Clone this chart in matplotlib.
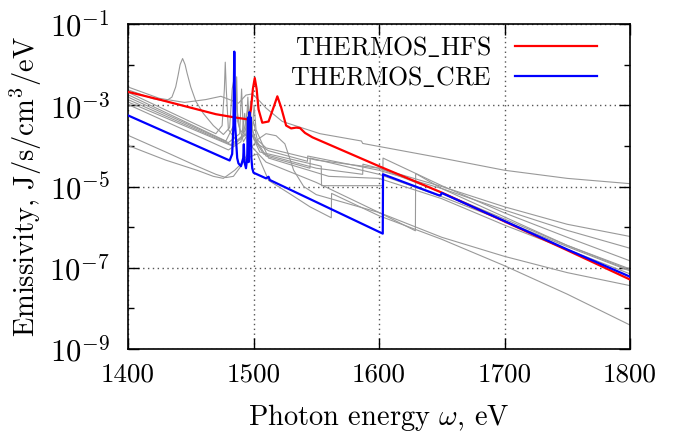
import numpy as np
import matplotlib
matplotlib.use("Agg")
import matplotlib.pyplot as plt

# --- data (photon energy in eV, log10 emissivity) ---
HFS_E = [1400, 1425, 1450, 1470, 1485, 1496, 1498, 1499.5, 1501, 1502.5, 1504, 1507,
         1512, 1516, 1519, 1522, 1526, 1530, 1534, 1537, 1541, 1547,
         1600, 1650, 1700, 1750, 1800]
HFS_LOG = [-2.67, -2.86, -3.06, -3.22, -3.30, -3.35, -3.10, -2.60, -2.33, -2.60, -3.10, -3.43,
           -3.40, -3.05, -2.78, -3.05, -3.50, -3.57, -3.55, -3.56, -3.68, -3.79,
           -4.50, -5.15, -5.86, -6.57, -7.29]

CRE_E = [1400, 1481, 1483, 1484, 1484.7, 1485.4, 1487, 1488, 1490, 1491.8, 1492.3, 1492.8,
         1494, 1495, 1495.6, 1496.1, 1496.7, 1497.2, 1497.8, 1498.3, 1499, 1500,
         1510, 1512, 1513, 1603, 1603.2, 1648, 1649, 1650, 1700, 1750, 1800]
CRE_LOG = [-3.25, -4.36, -4.20, -3.50, -1.68, -3.50, -4.30, -4.43, -4.50, -4.30, -3.96, -4.40,
           -4.55, -4.30, -3.30, -4.40, -3.17, -4.00, -3.30, -4.30, -4.55, -4.66,
           -4.80, -4.76, -4.84, -6.16, -4.70, -5.22, -5.22, -5.16, -5.85, -6.55, -7.22]

# other codes (gray)
OTHER_E = [
    [1400, 1425, 1445, 1462, 1474, 1480, 1488, 1494, 1499, 1505, 1510, 1523, 1553, 1586, 1587,
     1650, 1700, 1750, 1800],
    [1400, 1420, 1430, 1435, 1438, 1440, 1441.5, 1443.5, 1445.5, 1447, 1450, 1454, 1460, 1468,
     1476, 1481, 1483, 1484.5, 1486, 1489, 1496, 1500, 1503, 1510, 1550, 1600, 1650, 1700,
     1750, 1800],
    [1400, 1470, 1475, 1476.8, 1477.5, 1478.3, 1480, 1487, 1492, 1496, 1498, 1503, 1512,
     1543, 1543.2, 1600, 1650, 1700, 1750, 1800],
    [1400, 1478, 1485.8, 1486.6, 1487.4, 1492, 1497, 1497.6, 1498.4, 1505, 1554, 1554.2,
     1603, 1603.2, 1650, 1700, 1750, 1800],
    [1400, 1480, 1489, 1490.5, 1492, 1498, 1500, 1508, 1550, 1587, 1587.2, 1600,
     1650, 1700, 1750, 1800],
    [1400, 1482, 1494, 1495.5, 1497, 1501, 1510, 1545, 1545.2, 1600, 1650, 1700, 1750, 1800],
    [1400, 1483, 1499, 1500.5, 1502, 1512, 1560, 1600, 1650, 1700, 1750, 1800],
    [1400, 1480, 1490, 1493, 1495, 1510, 1550, 1600, 1629, 1629.2, 1650, 1700, 1750, 1800],
    [1400, 1430, 1455, 1470, 1478, 1484, 1490, 1497, 1503, 1510, 1518, 1525, 1532, 1540,
     1550, 1600, 1650, 1700, 1750, 1800],
    [1400, 1430, 1455, 1468, 1476, 1485, 1495, 1503, 1512, 1530, 1545, 1562, 1562.2,
     1600, 1650, 1700, 1750, 1800],
]
OTHER_LOG = [
    [-2.55, -2.83, -2.93, -2.86, -2.78, -2.85, -2.95, -2.75, -2.72, -2.90, -3.07, -3.40, -3.70,
     -3.88, -3.94, -4.30, -4.60, -4.80, -4.93],
    [-2.62, -2.84, -2.90, -2.80, -2.55, -2.25, -2.00, -1.85, -2.00, -2.20, -2.55, -2.90, -3.20,
     -3.50, -3.72, -3.55, -2.60, -2.35, -2.90, -3.60, -3.80, -3.40, -3.85, -4.05, -4.35, -4.55,
     -5.00, -5.50, -5.93, -6.23],
    [-2.68, -3.70, -3.50, -2.60, -1.94, -2.60, -3.60, -3.90, -3.70, -3.00, -3.50, -3.95, -4.12,
     -4.38, -4.25, -4.60, -5.05, -5.58, -6.08, -6.52],
    [-2.74, -3.88, -3.40, -2.30, -3.40, -3.90, -3.60, -2.90, -3.70, -4.15, -4.50, -4.98,
     -4.98, -4.30, -4.98, -5.65, -6.25, -6.83],
    [-2.80, -3.92, -3.70, -2.60, -3.70, -3.30, -3.80, -4.20, -4.55, -4.70, -4.45, -4.55,
     -5.15, -5.80, -6.45, -7.03],
    [-2.86, -3.97, -3.70, -2.80, -3.70, -3.80, -4.25, -4.55, -4.30, -4.70, -5.25, -5.85, -6.48, -7.08],
    [-2.92, -4.00, -3.60, -3.00, -3.60, -4.30, -4.75, -4.80, -5.30, -5.95, -6.55, -7.15],
    [-2.98, -4.10, -3.90, -3.20, -3.90, -4.40, -4.90, -5.64, -6.09, -4.68, -5.05, -5.75, -6.45, -7.06],
    [-3.74, -4.15, -4.50, -4.70, -4.78, -4.75, -4.50, -4.10, -3.85, -3.70, -3.75, -3.95, -4.60,
     -5.00, -5.20, -5.64, -6.25, -6.72, -7.12, -7.44],
    [-3.99, -4.35, -4.60, -4.75, -4.80, -4.60, -4.30, -4.20, -4.85, -5.20, -5.50, -5.77, -5.17,
     -5.72, -6.30, -6.95, -7.65, -8.41],
]

Y_TICKS = [1e-9, 1e-7, 1e-5, 1e-3, 1e-1]
Y_TICK_LABELS = [r"$10^{-9}$", r"$10^{-7}$", r"$10^{-5}$", r"$10^{-3}$", r"$10^{-1}$"]
X_TICKS = [1400, 1500, 1600, 1700, 1800]

plt.rcParams["font.family"] = ["cmr10", "DejaVu Serif"]
plt.rcParams["mathtext.fontset"] = "cm"
plt.rcParams["axes.formatter.use_mathtext"] = True
FS = 19.5

fig = plt.figure(figsize=(6.78, 4.32), dpi=100)
ax = fig.add_axes([128 / 678, 1 - 349 / 432, 502 / 678, 325 / 432])

for e, lg in zip(OTHER_E, OTHER_LOG):
    ax.plot(e, 10 ** np.array(lg), color="#999999", lw=0.8, zorder=2)

ax.plot(HFS_E, 10 ** np.array(HFS_LOG), color="red", lw=1.6, zorder=3,
        label=r"THERMOS$\_$HFS")
ax.plot(CRE_E, 10 ** np.array(CRE_LOG), color="blue", lw=1.6, zorder=4,
        label=r"THERMOS$\_$CRE")

ax.set_yscale("log")
ax.set_xlim(1400, 1800)
ax.set_ylim(1e-9, 1e-1)
ax.set_xticks(X_TICKS)
ax.set_xticklabels([str(t) for t in X_TICKS])
ax.set_yticks(Y_TICKS)
ax.set_yticklabels(Y_TICK_LABELS)
ax.yaxis.set_minor_locator(matplotlib.ticker.FixedLocator([1e-8, 1e-6, 1e-4, 1e-2]))
ax.yaxis.set_minor_formatter(matplotlib.ticker.NullFormatter())
ax.tick_params(which="both", direction="in", top=True, right=True)
ax.tick_params(which="major", length=8, width=1)
ax.tick_params(which="minor", length=4, width=1)
ax.tick_params(axis="x", labelsize=FS, pad=10)
ax.tick_params(axis="y", labelsize=22, pad=13)
ax.grid(True, which="major", color="#555555", linestyle=(0, (1, 2.5)), linewidth=1)
for s in ax.spines.values():
    s.set_linewidth(1.2)

ax.set_xlabel(r"Photon energy $\omega$, eV", fontsize=20.5, labelpad=11)
ax.set_ylabel(r"Emissivity, J/s/cm$^3$/eV", fontsize=20.5, labelpad=4)

leg = ax.legend(loc="upper right", bbox_to_anchor=(0.965, 1.015), frameon=False,
                markerfirst=False, fontsize=18.5, handlelength=3.2,
                handletextpad=0.9, labelspacing=0.2, borderaxespad=0.2)

fig.savefig("out.png", dpi=100)
